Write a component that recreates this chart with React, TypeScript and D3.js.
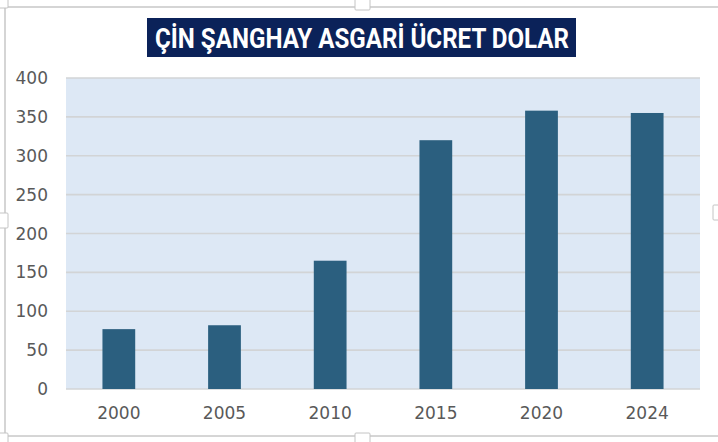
import React from "react";
import * as d3 from "d3";

const years = ["2000", "2005", "2010", "2015", "2020", "2024"];
const wages = [77, 82, 165, 320, 358, 355];
const yTicks = [0, 50, 100, 150, 200, 250, 300, 350, 400];
const title = "ÇİN ŞANGHAY ASGARİ ÜCRET DOLAR";

const W = 718;
const H = 442;
const plot = { left: 66, right: 700, top: 78, bottom: 389 };

export default function App() {
  const x = d3
    .scaleBand<string>()
    .domain(years)
    .range([plot.left, plot.right])
    .paddingInner(0.69)
    .paddingOuter(0.345);
  const y = d3.scaleLinear().domain([0, 400]).range([plot.bottom, plot.top]);
  const axisFont = "'DejaVu Sans', Verdana, sans-serif";

  const handle = (hx: number, hy: number, w: number, h: number, key: string) => (
    <rect key={key} x={hx} y={hy} width={w} height={h} fill="#ffffff" stroke="#c4c4c4" strokeWidth={1} rx={1} />
  );

  return (
    <svg
      width={W}
      height={H}
      style={{ position: "fixed", left: 0, top: 0, background: "#ffffff" }}
    >
      {/* outer frame */}
      <rect x={5} y={7} width={730} height={429} fill="#ffffff" stroke="#c8c8c8" strokeWidth={1.5} />

      {/* title */}
      <rect x={147} y={18} width={429} height={39} fill="#0b2259" />
      <text
        x={155}
        y={48}
        fill="#ffffff"
        fontFamily="'Liberation Sans Narrow', 'Roboto', 'Liberation Sans', Arial, sans-serif"
        fontWeight={700}
        fontSize={28}
        textLength={414}
        lengthAdjust="spacingAndGlyphs"
      >
        {title}
      </text>

      {/* plot background */}
      <rect
        x={plot.left}
        y={plot.top}
        width={plot.right - plot.left}
        height={plot.bottom - plot.top}
        fill="#dde8f5"
      />

      {/* gridlines */}
      {yTicks.map((t) => (
        <line
          key={"g" + t}
          x1={plot.left}
          x2={plot.right}
          y1={y(t)}
          y2={y(t)}
          stroke="#d2d4d6"
          strokeWidth={1.6}
        />
      ))}

      {/* bars */}
      {years.map((yr, i) => (
        <rect
          key={"b" + yr}
          x={x(yr)}
          y={y(wages[i])}
          width={x.bandwidth()}
          height={y(0) - y(wages[i])}
          fill="#2b5f7f"
        />
      ))}

      {/* y tick labels */}
      {yTicks.map((t) => (
        <text
          key={"yl" + t}
          x={48}
          y={y(t)}
          dy="0.36em"
          textAnchor="end"
          fontFamily={axisFont}
          fontSize={17}
          fill="#595959"
        >
          {t}
        </text>
      ))}

      {/* x tick labels */}
      {years.map((yr) => (
        <text
          key={"xl" + yr}
          x={(x(yr) as number) + x.bandwidth() / 2}
          y={419}
          textAnchor="middle"
          fontFamily={axisFont}
          fontSize={17}
          fill="#595959"
        >
          {yr}
        </text>
      ))}

      {/* selection handles */}
      {handle(355, -6, 15, 16, "ht")}
      {handle(-6, 213, 14, 15, "hl")}
      {handle(355, 433, 15, 16, "hb")}
      {handle(-6, 433, 14, 16, "hbl")}
      {handle(-6, -6, 14, 14, "htl")}
      {handle(713, 205, 14, 15, "hr")}
    </svg>
  );
}
